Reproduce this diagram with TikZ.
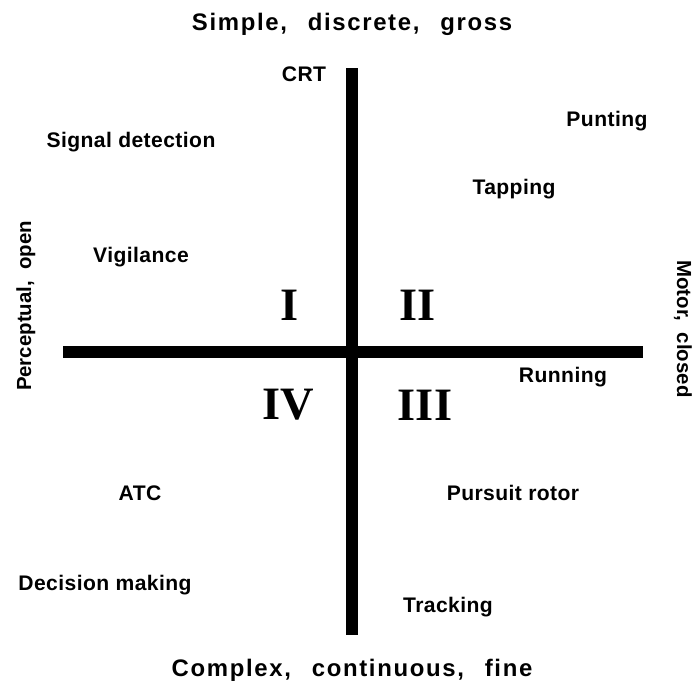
\documentclass[tikz,border=0pt]{standalone}
\usepackage{fontspec}
\setmainfont{Liberation Sans}
\newfontfamily\numfont{Liberation Serif}
\newfontfamily\dimfont[LetterSpace=7,WordSpace=2.5]{Liberation Sans}
\newfontfamily\sidefont[WordSpace=2]{Liberation Sans}
\newfontfamily\taskfont[LetterSpace=2]{Liberation Sans}
\usepackage{tikz}
\usetikzlibrary{positioning}

\begin{document}
\begin{tikzpicture}[x=0.025cm,y=-0.025cm,
  axis/.style={line width=8pt,draw=black},
  dim/.style={anchor=base,font=\fontsize{17}{19}\dimfont\bfseries},
  side/.style={anchor=base,font=\fontsize{14.5}{17}\sidefont\bfseries},
  task/.style={font=\fontsize{15}{17}\taskfont\bfseries},
  quad/.style={font=\fontsize{33}{35}\numfont\bfseries}
]
\useasboundingbox (0,0) rectangle (696,691);
% axes
\coordinate (top) at (352,68);
\coordinate (bottom) at (352,635);
\coordinate (left) at (63,352);
\coordinate (right) at (643,352);
\draw[axis] (top) -- (bottom);
\draw[axis] (left) -- (right);
% dimension labels
\node[dim] (simple) at (352,30) {Simple, discrete, gross};
\node[dim] (complex) at (352,676) {Complex, continuous, fine};
\node[side,rotate=90] (percept) at (31,306) {Perceptual, open};
\node[side,rotate=-90] (motor) at (677,329) {Motor, closed};
% quadrants
\node[quad] (q1) at (290,305) {I};
\node[quad] (q2) at (418,305) {II};
\node[quad] (q4) at (288,405) {IV};
\node[quad] (q3) at (425,405) {III};
% tasks
\node[task] (crt) at (304,74) {CRT};
\node[task] (signal) at (131,142) {Signal detection};
\node[task] (punting) at (607,121) {Punting};
\node[task] (tapping) at (514,189) {Tapping};
\node[task] (vigil) at (141,257) {Vigilance};
\node[task] (running) at (563,377) {Running};
\node[task] (atc) at (140,493) {ATC};
\node[task] (pursuit) at (513,493) {Pursuit rotor};
\node[task] (decision) at (105,585) {Decision making};
\node[task] (tracking) at (448,607) {Tracking};
\end{tikzpicture}
\end{document}
